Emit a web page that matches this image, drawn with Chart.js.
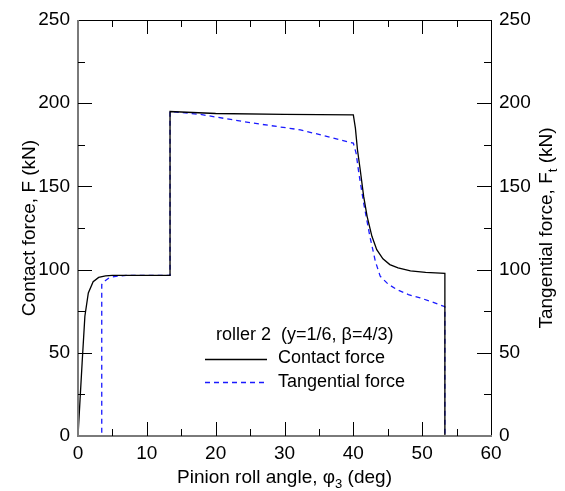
<!DOCTYPE html>
<html>
<head>
<meta charset="utf-8">
<script src="https://cdn.jsdelivr.net/npm/chart.js@4"></script>
<style>
  body { margin: 0; background: #fff; }
  canvas { display: block; }
</style>
</head>
<body>
<canvas id="rollerForce" width="565" height="491"></canvas>
<script>
// roller 2 contact / tangential force vs pinion roll angle
const contactAngle = [0, 0.3, 0.6, 1.0, 1.5, 2.2, 3.0, 4.0, 5.0, 8, 13.37, 13.37, 20, 30, 40.0, 40.3, 40.6, 41.0, 41.5, 42.0, 42.7, 43.4, 44.3, 45.3, 46.5, 48.3, 50.5, 53.3, 53.3, 60];
const contactForce = [0, 22, 44, 72, 86, 92.7, 95.3, 96.2, 96.5, 96.5, 96.5, 195, 193.8, 193.3, 193, 185, 172, 160, 144, 132, 120, 112, 106.5, 103, 101, 99.2, 98.3, 97.7, 0, 0];

const tangAngle = [0, 3.45, 3.45, 4.0, 4.5, 5.5, 7, 13.37, 13.37, 17.7, 25, 32.3, 38.1, 40.0, 40.4, 40.8, 41.5, 42.4, 43.2, 43.9, 45, 46.3, 48, 49.7, 51.5, 53.3, 53.3, 60];
const tangForce = [0, 0, 91, 93.5, 95, 96, 96.5, 96.5, 195, 193.3, 188.3, 184, 178, 176, 170, 158, 140, 120, 105, 96, 91.5, 88, 85, 83, 80.5, 77.7, 0, 0];

const xTicks = [0, 10, 20, 30, 40, 50, 60];
const yTicks = [0, 50, 100, 150, 200, 250];

const FONT = 'Liberation Sans, Arial, sans-serif';

function toPoints(xs, ys) {
    return xs.map((x, i) => ({x: x, y: ys[i]}));
}

// frame, axis titles and the text legend
const framePlugin = {
    id: 'framePlugin',
    afterDraw(chart) {
        const ctx = chart.ctx;
        const a = chart.chartArea;
        ctx.save();

        const L = Math.round(a.left), R = Math.round(a.right);
        const T = Math.round(a.top), B = Math.round(a.bottom);

        ctx.fillStyle = '#000';
        ctx.fillRect(L, T, R - L + 1, 1);
        ctx.fillRect(R, T, 1, B - T);
        ctx.fillStyle = '#7a7a7a';
        ctx.fillRect(L - 1, T, 2, B - T + 1);
        ctx.fillRect(L - 1, B - 1, R - L + 2, 2);

        ctx.fillStyle = '#000';
        ctx.textBaseline = 'middle';
        const cy = (a.top + a.bottom) / 2;

        ctx.save();
        ctx.translate(30, cy);
        ctx.rotate(-Math.PI / 2);
        ctx.font = '19px ' + FONT;
        ctx.textAlign = 'center';
        ctx.fillText('Contact force, F (kN)', 0, 0);
        ctx.restore();

        drawSub(ctx, 'Tangential force, F', 't', ' (kN)', 547, cy, true);
        drawSub(ctx, 'Pinion roll angle, \u03c6', '3', ' (deg)', (a.left + a.right) / 2, 478, false);

        ctx.font = '18px ' + FONT;
        ctx.textAlign = 'left';
        ctx.fillText('roller 2  (y=1/6, \u03b2=4/3)', 216, 335);
        ctx.fillText('Contact force', 278, 358);
        ctx.fillText('Tangential force', 278, 382);

        ctx.lineWidth = 1.3;
        ctx.strokeStyle = '#000';
        ctx.beginPath();
        ctx.moveTo(205, 359.5); ctx.lineTo(267, 359.5);
        ctx.stroke();
        ctx.strokeStyle = '#1a1aff';
        ctx.setLineDash([5, 4]);
        ctx.beginPath();
        ctx.moveTo(205, 382.5); ctx.lineTo(267, 382.5);
        ctx.stroke();
        ctx.setLineDash([]);

        ctx.restore();
    }
};

// inward ticks on all four sides: majors 14px, minors 7px
const innerTicks = {
    id: 'innerTicks',
    afterDraw(chart) {
        const ctx = chart.ctx;
        const a = chart.chartArea;
        const sx = chart.scales.x;
        const sy = chart.scales.y;
        ctx.save();
        ctx.fillStyle = 'black';
        const L = Math.round(a.left), R = Math.round(a.right);
        const T = Math.round(a.top), B = Math.round(a.bottom);
        for (let v = 5; v < 60; v += 5) {
            const px = Math.round(sx.getPixelForValue(v));
            const len = v % 10 === 0 ? 14 : 7;
            ctx.fillRect(px, B - len, 1, len);
            ctx.fillRect(px, T, 1, len);
        }
        for (let v = 25; v < 250; v += 25) {
            const py = Math.round(sy.getPixelForValue(v));
            const len = v % 50 === 0 ? 14 : 7;
            ctx.fillRect(L, py, len, 1);
            ctx.fillRect(R - len, py, len, 1);
        }
        ctx.restore();
    }
};

// text with a subscript piece, centred on (cx, cy); optional -90 deg rotation
function drawSub(ctx, head, sub, tail, cx, cy, rotated) {
    const big = '19px ' + FONT;
    const small = '13px ' + FONT;
    ctx.save();
    ctx.font = big;
    const w1 = ctx.measureText(head).width;
    const w3 = ctx.measureText(tail).width;
    ctx.font = small;
    const w2 = ctx.measureText(sub).width;
    const total = w1 + w2 + w3;
    ctx.translate(cx, cy);
    if (rotated) ctx.rotate(-Math.PI / 2);
    ctx.textAlign = 'left';
    ctx.textBaseline = 'middle';
    let x = -total / 2;
    ctx.font = big;
    ctx.fillText(head, x, 0);
    x += w1;
    ctx.font = small;
    ctx.fillText(sub, x, 6);
    x += w2;
    ctx.font = big;
    ctx.fillText(tail, x, 0);
    ctx.restore();
}

const tickFont = {family: FONT, size: 19};

const forceChart = new Chart(document.getElementById('rollerForce').getContext('2d'), {
    type: 'line',
    data: {
        datasets: [{
            label: 'Contact force',
            data: toPoints(contactAngle, contactForce),
            borderColor: '#000',
            borderWidth: 1.3,
            pointRadius: 0,
            fill: false,
            yAxisID: 'y'
        }, {
            label: 'Tangential force',
            data: toPoints(tangAngle, tangForce),
            borderColor: '#1a1aff',
            borderWidth: 1.3,
            borderDash: [5, 4],
            pointRadius: 0,
            fill: false,
            yAxisID: 'y2'
        }]
    },
    options: {
        responsive: false,
        animation: false,
        devicePixelRatio: 1,
        layout: {padding: {top: 20}},
        plugins: {
            legend: {display: false},
            tooltip: {enabled: false}
        },
        scales: {
            x: {
                type: 'linear',
                min: 0,
                max: 60,
                afterBuildTicks: s => { s.ticks = xTicks.map(v => ({value: v})); },
                ticks: {color: '#000', font: tickFont, padding: 6, maxRotation: 0},
                grid: {display: false, drawTicks: false},
                border: {display: false},
                afterFit: s => { s.height = 55; }
            },
            y: {
                position: 'left',
                min: 0,
                max: 250,
                afterBuildTicks: s => { s.ticks = yTicks.map(v => ({value: v})); },
                ticks: {color: '#000', font: tickFont, padding: 8},
                grid: {display: false, drawTicks: false},
                border: {display: false},
                afterFit: s => { s.width = 78; }
            },
            y2: {
                position: 'right',
                min: 0,
                max: 250,
                afterBuildTicks: s => { s.ticks = yTicks.map(v => ({value: v})); },
                ticks: {color: '#000', font: tickFont, padding: 8},
                grid: {display: false, drawTicks: false},
                border: {display: false},
                afterFit: s => { s.width = 74; }
            }
        }
    },
    plugins: [framePlugin, innerTicks]
});
</script>
</body>
</html>
